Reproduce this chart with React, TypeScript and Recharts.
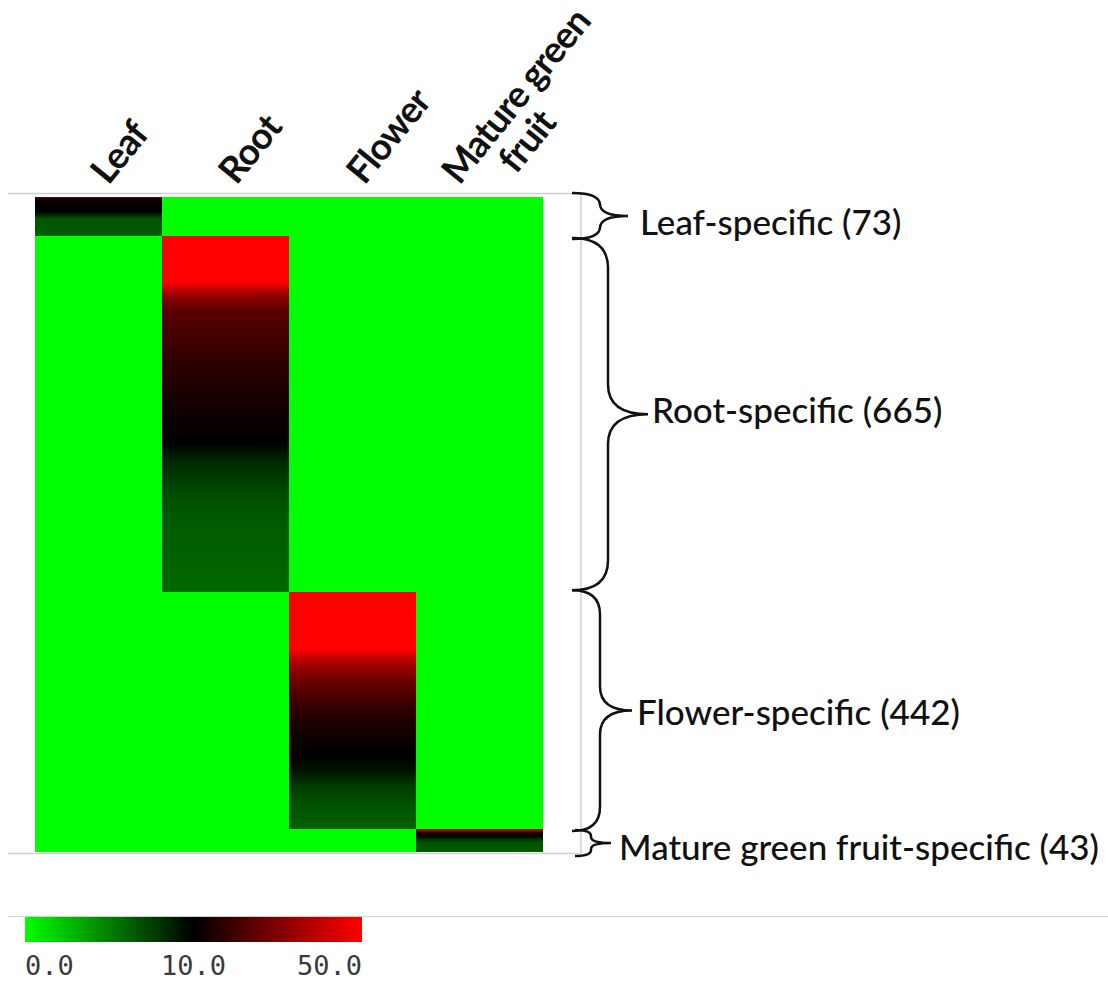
import React from 'react';
import { BarChart, Bar, XAxis, YAxis, Cell, ReferenceArea } from 'recharts';

// ---------------- data ----------------
const tissues = ['Leaf', 'Root', 'Flower', 'Mature green fruit'];
const tissueLabelLines = [['Leaf'], ['Root'], ['Flower'], ['Mature green', 'fruit']];
const groupNames = ['Leaf-specific', 'Root-specific', 'Flower-specific', 'Mature green fruit-specific'];
const groupCounts = [73, 665, 442, 43];

// expression of the specific tissue down each group (sorted rows): [fraction of group rows, value]
const leafProfile: [number, number][] = [
  [0, 28], [0.05, 14], [0.1, 10.5], [0.36, 10], [0.46, 8.5], [0.55, 6.8], [1, 6.3],
];
const rootProfile: [number, number][] = [
  [0, 50], [0.13, 50], [0.15, 40], [0.17, 32.6], [0.21, 24], [0.26, 21.6], [0.35, 17.5],
  [0.45, 13.8], [0.54, 10.8], [0.58, 10], [0.63, 8.5], [0.71, 7.2], [0.78, 6.5], [0.92, 6.1], [1, 5.9],
];
const flowerProfile: [number, number][] = [
  [0, 50], [0.24, 50], [0.27, 42.6], [0.31, 35], [0.37, 27.6], [0.44, 21.3], [0.54, 15],
  [0.62, 11.6], [0.7, 10], [0.76, 9.1], [0.82, 7.6], [0.9, 6.7], [1, 6.2],
];
const fruitProfile: [number, number][] = [
  [0, 45], [0.1, 30], [0.18, 12], [0.3, 10], [0.45, 8], [0.6, 6.8], [1, 6.3],
];
const groupProfiles = [leafProfile, rootProfile, flowerProfile, fruitProfile];
const otherTissueValue = 0;
const legendValues = [0, 10, 50];

// ---------------- styles / layout ----------------
const W = 1108;
const H = 989;
const AXIS_H = 30;
const MARGIN = { top: 197 - AXIS_H, left: 35, right: W - 543, bottom: H - 852 };
const labelStyle = [
  { dx: 10, line2dx: 0 },
  { dx: 11, line2dx: 0 },
  { dx: 12, line2dx: 0 },
  { dx: -20, line2dx: 44 },
];
const braceStyle = [
  { start: 29, topPad: -4, botPad: 3, shoulder: 28, tip: 56, r: 12, label: 68, dy: 5 },
  { start: 29, topPad: 2, botPad: -2, shoulder: 36, tip: 76, r: 30, label: 80, dy: -5 },
  { start: 29, topPad: -2, botPad: 2, shoulder: 28, tip: 60, r: 24, label: 65, dy: 0 },
  { start: 32, topPad: 1, botPad: 4, shoulder: 16, tip: 36, r: 6, label: 44, dy: 3 },
];
const TEXT_FONT = 'Lato, "Open Sans", sans-serif';

function colorFor(v: number): string {
  if (v <= 10) {
    const g = Math.round(255 * (1 - Math.max(0, v) / 10));
    return `rgb(0,${g},0)`;
  }
  const r = Math.round(Math.min(255, (255 * (v - 10)) / 40));
  return `rgb(${r},0,0)`;
}

type Seg = { key: string; group: number; seg: number; c0: string; c1: string; frac: number };
const segments: Seg[] = [];
groupProfiles.forEach((p, g) => {
  for (let i = 0; i < p.length - 1; i++) {
    segments.push({
      key: `g${g}s${i}`,
      group: g,
      seg: i,
      c0: colorFor(p[i][1]),
      c1: colorFor(p[i + 1][1]),
      frac: p[i + 1][0] - p[i][0],
    });
  }
});

const chartData = tissues.map((t, ti) => {
  const row: Record<string, any> = { tissue: t };
  segments.forEach((s) => {
    const n = groupCounts[s.group];
    row[s.key] = ti === s.group ? n * s.frac : s.seg === 0 ? n : 0;
  });
  return row;
});

const total = groupCounts.reduce((a, b) => a + b, 0);
const groupStarts = groupCounts.map((_, i) => groupCounts.slice(0, i).reduce((a, b) => a + b, 0));

const TissueTick = (props: any) => {
  const { x, payload } = props;
  const i = tissues.indexOf(payload.value);
  const lines = tissueLabelLines[i];
  const st = labelStyle[i];
  return (
    <g transform={`translate(${x + st.dx},186) rotate(-51)`}>
      {lines.map((l, j) => (
        <text
          key={j}
          x={j === 0 ? 0 : st.line2dx}
          y={j * 37}
          textAnchor="start"
          fontFamily={TEXT_FONT}
          fontWeight={700}
          fontSize={37}
          letterSpacing={-1}
          fill="#111"
        >
          {l}
        </text>
      ))}
    </g>
  );
};

const makeBrace = (g: number) => (props: any) => {
  const { x, y, width, height } = props;
  const bs = braceStyle[g];
  const x0 = x + width + bs.start;
  const a = y + bs.topPad;
  const b = y + height + bs.botPad;
  const m = (a + b) / 2;
  const x1 = x0 + bs.shoulder;
  const xt = x0 + bs.tip;
  const r = bs.r;
  const d = `M${x0},${a} Q${x1},${a} ${x1},${a + r} L${x1},${m - r} Q${x1},${m} ${xt},${m} Q${x1},${m} ${x1},${m + r} L${x1},${b - r} Q${x1},${b} ${x0},${b}`;
  return (
    <g>
      <path d={d} fill="none" stroke="#111" strokeWidth={2.5} />
      <text
        x={x0 + bs.label}
        y={m + bs.dy}
        dominantBaseline="central"
        fontFamily={TEXT_FONT}
        fontWeight={500}
        fontSize={35}
        fill="#111"
      >
        {`${groupNames[g]} (${groupCounts[g]})`}
      </text>
    </g>
  );
};

const Frame = (props: any) => {
  const { x, y, width, height } = props;
  const right = x + width + 38;
  const top = y - 3.5;
  const bottom = y + height + 1.5;
  return (
    <g stroke="#cfcfcf" strokeWidth={1.5} fill="none">
      <line x1={8} y1={top} x2={right} y2={top} />
      <line x1={8} y1={bottom} x2={right} y2={bottom} />
      <line x1={right} y1={top} x2={right} y2={bottom} />
    </g>
  );
};

export default function App() {
  const barLeft = 25;
  const barWidth = 337;
  return (
    <div style={{ position: 'absolute', left: 0, top: 0, width: W, height: H, background: '#fff' }}>
      <BarChart
        width={W}
        height={H}
        data={chartData}
        margin={MARGIN}
        barCategoryGap={0}
        barGap={0}
        style={{ overflow: 'visible' }}
      >
        <defs>
          {segments.map((s) => (
            <linearGradient key={s.key} id={`grad-${s.key}`} x1="0" y1="0" x2="0" y2="1">
              <stop offset="0%" stopColor={s.c0} />
              <stop offset="100%" stopColor={s.c1} />
            </linearGradient>
          ))}
        </defs>
        <XAxis
          dataKey="tissue"
          orientation="top"
          height={AXIS_H}
          axisLine={false}
          tickLine={false}
          interval={0}
          tick={<TissueTick />}
        />
        <YAxis type="number" domain={[0, total]} reversed hide />
        <ReferenceArea y1={0} y2={total} ifOverflow="visible" shape={<Frame />} />
        {segments.map((s) => (
          <Bar key={s.key} dataKey={s.key} stackId="heat" isAnimationActive={false} shapeRendering="crispEdges">
            {tissues.map((t, ti) => (
              <Cell
                key={t}
                fill={ti === s.group ? `url(#grad-${s.key})` : colorFor(otherTissueValue)}
              />
            ))}
          </Bar>
        ))}
        {groupCounts.map((n, g) => (
          <ReferenceArea
            key={g}
            y1={groupStarts[g]}
            y2={groupStarts[g] + n}
            ifOverflow="visible"
            shape={makeBrace(g)}
          />
        ))}
      </BarChart>
      <div style={{ position: 'absolute', left: 8, top: 915.5, width: W - 8, height: 1.5, background: '#cfcfcf' }} />
      <div
        style={{
          position: 'absolute',
          left: barLeft,
          top: 917,
          width: barWidth,
          height: 25,
          background: `linear-gradient(to right, ${legendValues
            .map((v, i) => `${colorFor(v)} ${(i / (legendValues.length - 1)) * 100}%`)
            .join(', ')})`,
        }}
      />
      {legendValues.map((v, i) => {
        const f = i / (legendValues.length - 1);
        return (
          <div
            key={v}
            style={{
              position: 'absolute',
              left: barLeft + f * barWidth,
              top: 948,
              transform: `translateX(${-f * 100}%)`,
              fontFamily: '"DejaVu Sans Mono", monospace',
              fontSize: 27,
              color: '#3a3a3a',
              whiteSpace: 'nowrap',
              lineHeight: '36px',
            }}
          >
            {v.toFixed(1)}
          </div>
        );
      })}
    </div>
  );
}
